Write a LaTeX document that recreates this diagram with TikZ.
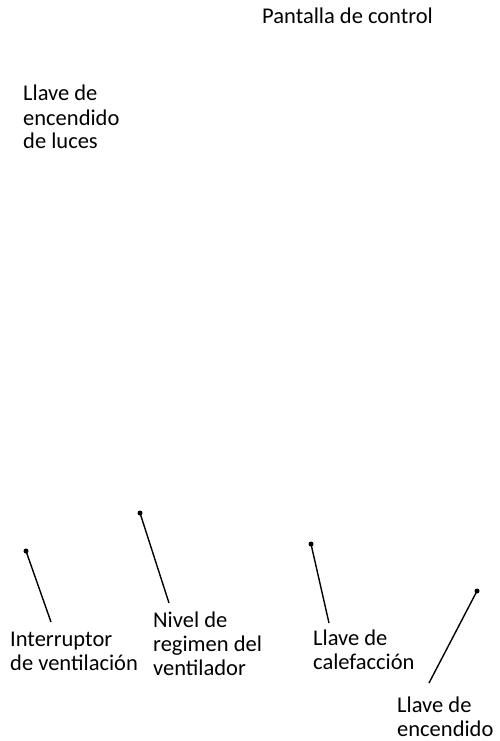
\documentclass[tikz,border=0pt]{standalone}
\usepackage{fontspec}
\setmainfont{Carlito}
\begin{document}
\begin{tikzpicture}[x=1pt,y=-1pt,
  lbl/.style={anchor=base west,inner sep=0pt,align=left,font=\fontsize{22.5}{24}\selectfont},
  pin/.style={circle,fill=black,inner sep=0pt,minimum size=5pt},
  lead/.style={line width=1.4pt}]
\useasboundingbox (0,0) rectangle (500,741);
\node[lbl] (pantalla) at (262,24) {Pantalla de control};
\node[lbl] (luces) at (23,149) {Llave de\\encendido\\de luces};
\node[lbl] (interr) at (10,670) {Interruptor\\de ventilación};
\node[lbl] (nivel) at (153,675) {Nivel de\\regimen del\\ventilador};
\node[lbl] (calef) at (313,669) {Llave de\\calefacción};
\node[lbl] (enc) at (397,736) {Llave de\\encendido};
\node[pin] (p1) at (26,551) {};
\node[pin] (p2) at (140,513) {};
\node[pin] (p3) at (311,544) {};
\node[pin] (p4) at (477,591) {};
\coordinate (e1) at (51,622);
\coordinate (e2) at (169,603);
\coordinate (e3) at (329,623);
\coordinate (e4) at (429,683);
\draw[lead] (p1.center) -- (e1);
\draw[lead] (p2.center) -- (e2);
\draw[lead] (p3.center) -- (e3);
\draw[lead] (p4.center) -- (e4);
\end{tikzpicture}
\end{document}
